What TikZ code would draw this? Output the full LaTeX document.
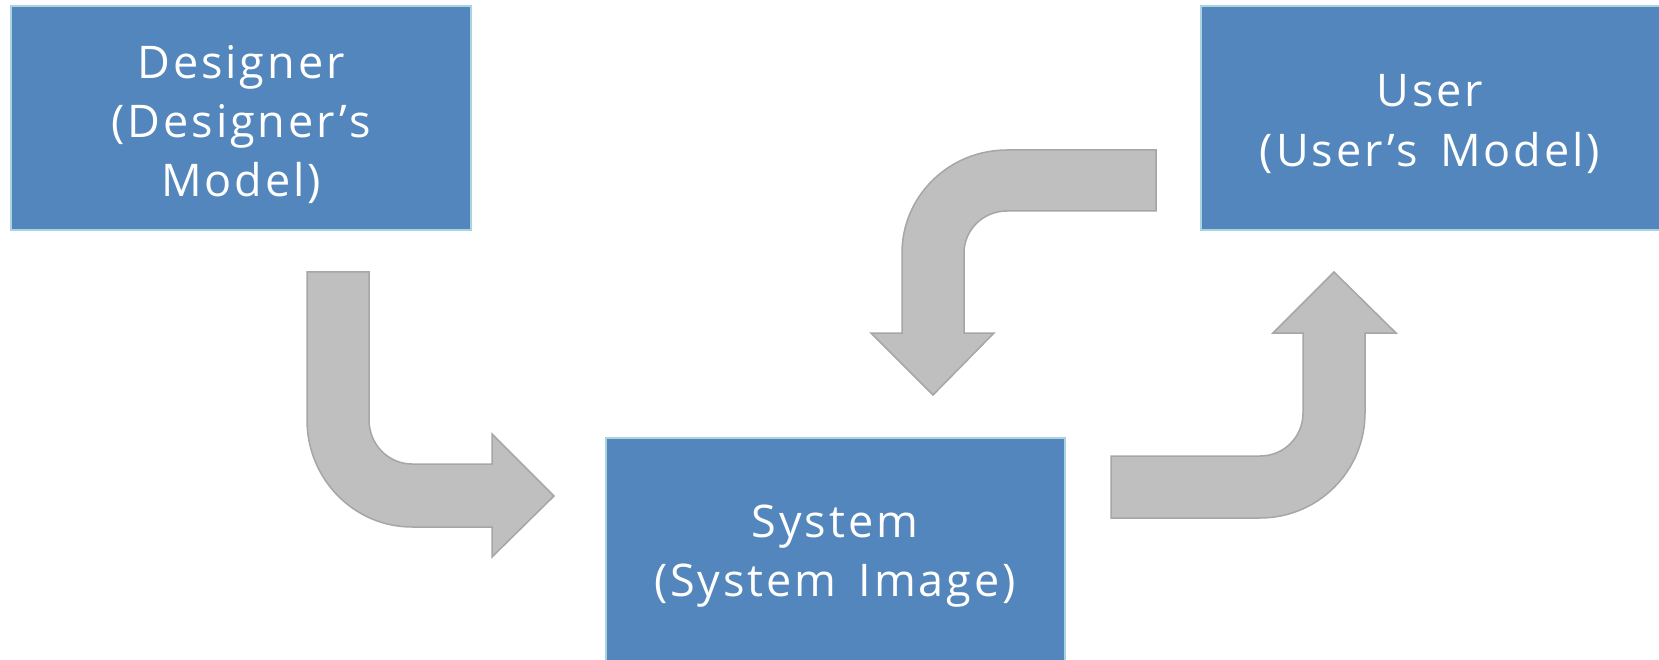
\documentclass[tikz,border=0pt]{standalone}
\usepackage{fontspec}
\setmainfont{Open Sans}[LetterSpace=6.5, WordSpace=1.5]
\definecolor{boxblue}{HTML}{5286BC}
\definecolor{boxedge}{HTML}{A9D3E0}
\definecolor{arrfill}{HTML}{BFBFBF}
\definecolor{arredge}{HTML}{A6A6A6}
\tikzset{
  blockbox/.style={fill=boxblue, draw=boxedge, line width=2pt},
  blocktext/.style={text=white, align=center, font=\fontsize{45}{59}\selectfont},
  bentarrow/.style={fill=arrfill, draw=arredge, line width=1.5pt, line join=miter}
}
\begin{document}
\begin{tikzpicture}[x=1pt, y=-1pt]
\useasboundingbox (0,0) rectangle (1659,660);
% boxes
\draw[blockbox] (11,6) rectangle (471,230);
\node[blocktext] (designer) at (241,125) {Designer\\(Designer’s\\Model)};
\draw[blockbox] (606,438) rectangle (1065,662);
\node[blocktext] (system) at (835,556) {System\\(System Image)};
\draw[blockbox] (1201,6) rectangle (1661,230);
\node[blocktext] (user) at (1430,124) {User\\(User’s Model)};
% arrow designer -> system
\draw[bentarrow] (307,272) -- (369,272) -- (369,420)
  .. controls (369,444) and (388,464) .. (412,464) -- (492,464) -- (492,434)
  -- (554,496) -- (492,557) -- (492,527) -- (412,527)
  .. controls (354,527) and (307,479) .. (307,420) -- cycle;
% arrow user -> system
\draw[bentarrow] (1156,150) -- (1156,211) -- (1007,211)
  .. controls (983,211) and (964,230) .. (964,253) -- (964,333) -- (994,333)
  -- (933,395) -- (871,333) -- (902,333) -- (902,253)
  .. controls (902,196) and (949,150) .. (1007,150) -- cycle;
% arrow system -> user
\draw[bentarrow] (1111,456) -- (1260,456)
  .. controls (1284,456) and (1303,437) .. (1303,413) -- (1303,333) -- (1273,333)
  -- (1334,272) -- (1396,333) -- (1365,333) -- (1365,413)
  .. controls (1365,471) and (1318,518) .. (1260,518) -- (1111,518) -- cycle;
\end{tikzpicture}
\end{document}
